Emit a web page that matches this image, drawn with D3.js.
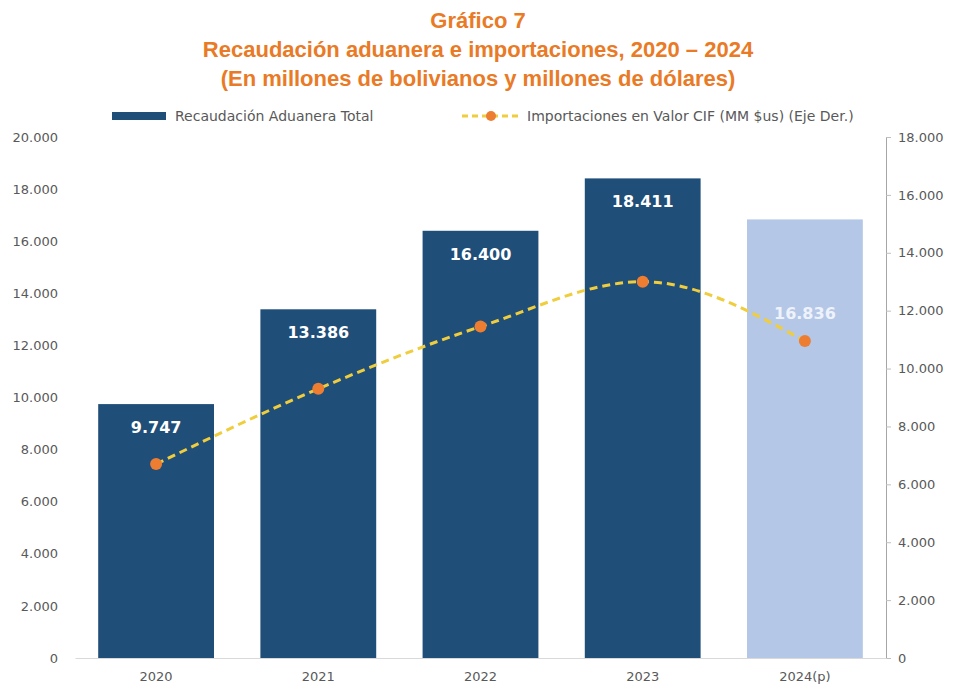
<!DOCTYPE html>
<html>
<head>
<meta charset="utf-8">
<script src="https://cdn.jsdelivr.net/npm/d3@7"></script>
<style>
body{margin:0;background:#fff;}
svg{display:block;}
</style>
</head>
<body>
<div id="chart"></div>
<script>
// datos del gráfico
const years = ["2020", "2021", "2022", "2023", "2024(p)"];
const recaudacion = [9747, 13386, 16400, 18411, 16836];
const importaciones = [6700, 9300, 11450, 13000, 10950];
const leftTicks = [0, 2000, 4000, 6000, 8000, 10000, 12000, 14000, 16000, 18000, 20000];
const rightTicks = [0, 2000, 4000, 6000, 8000, 10000, 12000, 14000, 16000, 18000];
const titulo = ["Gráfico 7", "Recaudación aduanera e importaciones, 2020 – 2024", "(En millones de bolivianos y millones de dólares)"];

const width = 953, height = 685;
const margin = {top: 137, right: 67, bottom: 27, left: 75};
const fmt = v => d3.format(",")(v).replace(/,/g, ".");

const svg = d3.select("#chart").append("svg")
	.attr("width", width)
	.attr("height", height);

const x = d3.scaleBand()
	.domain(years)
	.range([margin.left, width - margin.right])
	.paddingInner(0.286)
	.paddingOuter(0.143);

const yL = d3.scaleLinear().domain([0, 20000]).range([height - margin.bottom, margin.top]);
const yR = d3.scaleLinear().domain([0, 18000]).range([height - margin.bottom, margin.top]);

//título
svg.append("g").selectAll("text")
	.data(titulo)
	.enter().append("text")
	.attr("x", 478)
	.attr("y", (d, i) => 28 + i * 29)
	.attr("text-anchor", "middle")
	.attr("font-family", "Liberation Sans, Arial, sans-serif")
	.attr("font-weight", "bold")
	.attr("font-size", 22)
	.attr("fill", "#e97a26")
	.text(d => d);

//ejes
const axisLeft = d3.axisLeft(yL).tickValues(leftTicks).tickFormat(fmt).tickSize(0).tickPadding(17);
const gL = svg.append("g").attr("transform", "translate(" + margin.left + ",0)").call(axisLeft);
gL.select(".domain").remove();

const axisRight = d3.axisRight(yR).tickValues(rightTicks).tickFormat(fmt).tickSize(5).tickPadding(7);
const gR = svg.append("g").attr("transform", "translate(" + (width - margin.right) + ",0)").call(axisRight);
gR.select(".domain").attr("stroke", "#a6a6a6");
gR.selectAll(".tick line").attr("stroke", "#bfbfbf");

const axisBottom = d3.axisBottom(x).tickSize(0).tickPadding(14);
const gB = svg.append("g").attr("transform", "translate(0," + (height - margin.bottom) + ")").call(axisBottom);
gB.select(".domain").attr("stroke", "#d9d9d9");

svg.selectAll(".tick text")
	.attr("font-family", "DejaVu Sans, sans-serif")
	.attr("font-size", 13)
	.attr("fill", "#595959");

//barras
svg.append("g").selectAll("rect")
	.data(recaudacion)
	.enter().append("rect")
	.attr("x", (d, i) => x(years[i]))
	.attr("y", d => yL(d))
	.attr("width", x.bandwidth())
	.attr("height", d => yL(0) - yL(d))
	.attr("fill", (d, i) => i == years.length - 1 ? "#b4c7e7" : "#1f4e79");

//etiquetas de valor
svg.append("g").selectAll("text")
	.data(recaudacion)
	.enter().append("text")
	.attr("x", (d, i) => x(years[i]) + x.bandwidth() / 2)
	.attr("y", (d, i) => i == years.length - 1 ? yL(d) + 100 : yL(d) + 29)
	.attr("text-anchor", "middle")
	.attr("font-family", "DejaVu Sans, sans-serif")
	.attr("font-weight", "bold")
	.attr("font-size", 16)
	.attr("fill", (d, i) => i == years.length - 1 ? "#eef2fa" : "#ffffff")
	.text(d => fmt(d));

//línea de importaciones
const line = d3.line()
	.x((d, i) => x(years[i]) + x.bandwidth() / 2)
	.y(d => yR(d))
	.curve(d3.curveMonotoneX);

svg.append("path")
	.datum(importaciones)
	.attr("d", line)
	.attr("fill", "none")
	.attr("stroke", "#f0cd3c")
	.attr("stroke-width", 3)
	.attr("stroke-dasharray", "8,5");

svg.append("g").selectAll("circle")
	.data(importaciones)
	.enter().append("circle")
	.attr("cx", (d, i) => x(years[i]) + x.bandwidth() / 2)
	.attr("cy", d => yR(d))
	.attr("r", 6)
	.attr("fill", "#ed7d31");

//leyenda
const lg = svg.append("g").attr("font-family", "DejaVu Sans, sans-serif").attr("font-size", 14).attr("fill", "#595959");
lg.append("rect").attr("x", 112).attr("y", 112).attr("width", 54).attr("height", 8).attr("fill", "#1f4e79");
lg.append("text").attr("x", 175).attr("y", 121).text("Recaudación Aduanera Total");
lg.append("line").attr("x1", 462).attr("x2", 520).attr("y1", 116).attr("y2", 116)
	.attr("stroke", "#f0cd3c").attr("stroke-width", 3).attr("stroke-dasharray", "6,4");
lg.append("circle").attr("cx", 491).attr("cy", 116).attr("r", 5).attr("fill", "#ed7d31");
lg.append("text").attr("x", 527).attr("y", 121).text("Importaciones en Valor CIF (MM $us) (Eje Der.)");
</script>
</body>
</html>
